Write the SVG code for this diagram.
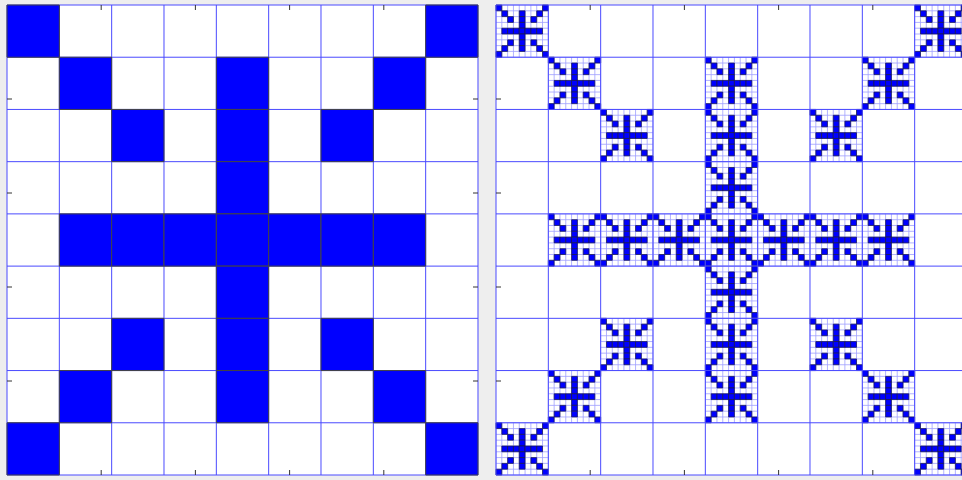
<svg xmlns="http://www.w3.org/2000/svg" xmlns:xlink="http://www.w3.org/1999/xlink" width="962" height="480" viewBox="0 0 962 480">
<style>
.ns{vector-effect:non-scaling-stroke}
.main{fill:none;stroke:#4a4aff;stroke-width:1}
.sub{fill:none;stroke:#a0a0ff;stroke-width:0.8}
.tick{stroke:#333;stroke-width:1}
</style>
<defs>
<g id="motif">
<rect class="ns" x="0" y="0" width="1" height="1"/><rect class="ns" x="8" y="0" width="1" height="1"/>
<rect class="ns" x="1" y="1" width="1" height="1"/><rect class="ns" x="4" y="1" width="1" height="1"/><rect class="ns" x="7" y="1" width="1" height="1"/>
<rect class="ns" x="2" y="2" width="1" height="1"/><rect class="ns" x="4" y="2" width="1" height="1"/><rect class="ns" x="6" y="2" width="1" height="1"/>
<rect class="ns" x="4" y="3" width="1" height="1"/>
<rect class="ns" x="1" y="4" width="1" height="1"/><rect class="ns" x="2" y="4" width="1" height="1"/><rect class="ns" x="3" y="4" width="1" height="1"/><rect class="ns" x="4" y="4" width="1" height="1"/><rect class="ns" x="5" y="4" width="1" height="1"/><rect class="ns" x="6" y="4" width="1" height="1"/><rect class="ns" x="7" y="4" width="1" height="1"/>
<rect class="ns" x="4" y="5" width="1" height="1"/>
<rect class="ns" x="2" y="6" width="1" height="1"/><rect class="ns" x="4" y="6" width="1" height="1"/><rect class="ns" x="6" y="6" width="1" height="1"/>
<rect class="ns" x="1" y="7" width="1" height="1"/><rect class="ns" x="4" y="7" width="1" height="1"/><rect class="ns" x="7" y="7" width="1" height="1"/>
<rect class="ns" x="0" y="8" width="1" height="1"/><rect class="ns" x="8" y="8" width="1" height="1"/>
</g>
<path id="grid9" class="ns" d="M0 0V9M1 0V9M2 0V9M3 0V9M4 0V9M5 0V9M6 0V9M7 0V9M8 0V9M9 0V9M0 0H9M0 1H9M0 2H9M0 3H9M0 4H9M0 5H9M0 6H9M0 7H9M0 8H9M0 9H9"/>
<g id="fine">
<use xlink:href="#grid9" href="#grid9" class="sub"/>
<use xlink:href="#motif" href="#motif" fill="#0000ff" stroke="#1a1a40" stroke-width="0.7"/>
</g>
</defs>
<rect x="0" y="0" width="962" height="480" fill="#eeeeee"/>

<g id="left-panel">
<rect x="7" y="5" width="471" height="470" fill="#ffffff"/>
<g transform="translate(7,5) scale(5.8148,5.8025)">
<use xlink:href="#grid9" href="#grid9" class="main" transform="scale(9)"/>
<use xlink:href="#motif" href="#motif" transform="scale(9)" fill="#0000ff" stroke="#444" stroke-width="1"/>
</g>
<path class="tick" d="M101.2 5V10M195.4 5V10M289.6 5V10M383.8 5V10M101.2 475V470M195.4 475V470M289.6 475V470M383.8 475V470M7 99H12M7 193H12M7 287H12M7 381H12M478 99H473M478 193H473M478 287H473M478 381H473"/>
</g>

<g id="right-panel">
<rect x="496" y="5" width="471" height="470" fill="#ffffff"/>
<g transform="translate(496,5) scale(5.8148,5.8025)">
<use xlink:href="#fine" href="#fine" x="0" y="0"/><use xlink:href="#fine" href="#fine" x="72" y="0"/>
<use xlink:href="#fine" href="#fine" x="9" y="9"/><use xlink:href="#fine" href="#fine" x="36" y="9"/><use xlink:href="#fine" href="#fine" x="63" y="9"/>
<use xlink:href="#fine" href="#fine" x="18" y="18"/><use xlink:href="#fine" href="#fine" x="36" y="18"/><use xlink:href="#fine" href="#fine" x="54" y="18"/>
<use xlink:href="#fine" href="#fine" x="36" y="27"/>
<use xlink:href="#fine" href="#fine" x="9" y="36"/><use xlink:href="#fine" href="#fine" x="18" y="36"/><use xlink:href="#fine" href="#fine" x="27" y="36"/><use xlink:href="#fine" href="#fine" x="36" y="36"/><use xlink:href="#fine" href="#fine" x="45" y="36"/><use xlink:href="#fine" href="#fine" x="54" y="36"/><use xlink:href="#fine" href="#fine" x="63" y="36"/>
<use xlink:href="#fine" href="#fine" x="36" y="45"/>
<use xlink:href="#fine" href="#fine" x="18" y="54"/><use xlink:href="#fine" href="#fine" x="36" y="54"/><use xlink:href="#fine" href="#fine" x="54" y="54"/>
<use xlink:href="#fine" href="#fine" x="9" y="63"/><use xlink:href="#fine" href="#fine" x="36" y="63"/><use xlink:href="#fine" href="#fine" x="63" y="63"/>
<use xlink:href="#fine" href="#fine" x="0" y="72"/><use xlink:href="#fine" href="#fine" x="72" y="72"/>
<use xlink:href="#grid9" href="#grid9" class="main" transform="scale(9)"/>
</g>
<path class="tick" d="M590.2 5V10M684.4 5V10M778.6 5V10M872.8 5V10M590.2 475V470M684.4 475V470M778.6 475V470M872.8 475V470M496 99H501M496 193H501M496 287H501M496 381H501M967 99H962M967 193H962M967 287H962M967 381H962"/>
</g>
</svg>
